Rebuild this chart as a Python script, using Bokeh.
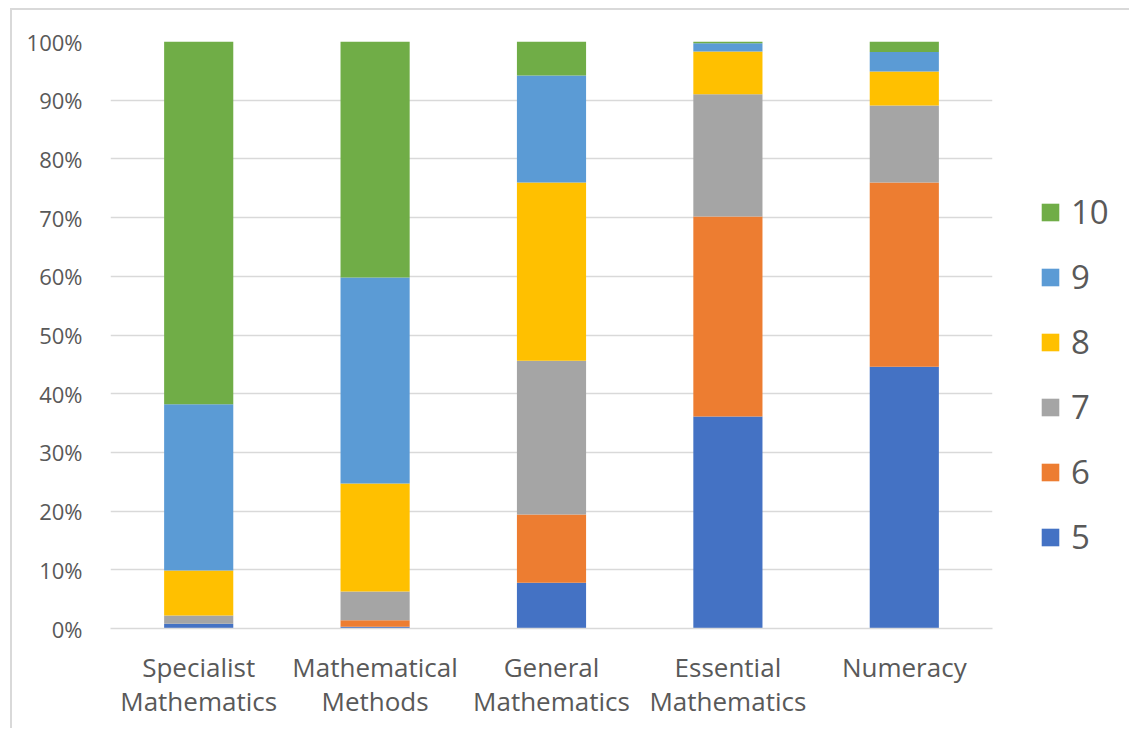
from bokeh.plotting import figure
from bokeh.models import ColumnDataSource, FactorRange, Legend, LegendItem, NumeralTickFormatter, FixedTicker
from bokeh.embed import file_html
from bokeh.resources import INLINE

subjects = ["Specialist\nMathematics", "Mathematical\nMethods", "General\nMathematics",
            "Essential\nMathematics", "Numeracy"]
grades = ["5", "6", "7", "8", "9", "10"]
g5 = [0.008, 0.003, 0.078, 0.361, 0.446]
g6 = [0.000, 0.011, 0.116, 0.341, 0.314]
g7 = [0.014, 0.049, 0.262, 0.208, 0.131]
g8 = [0.077, 0.184, 0.304, 0.073, 0.058]
g9 = [0.283, 0.351, 0.182, 0.014, 0.033]
g10 = [0.618, 0.402, 0.058, 0.003, 0.018]
colors = ["#4472C4", "#ED7D31", "#A5A5A5", "#FFC000", "#5B9BD5", "#70AD47"]

src = ColumnDataSource(dict(x=subjects, g5=g5, g6=g6, g7=g7, g8=g8, g9=g9, g10=g10))

FONT = "Open Sans"
TXT = "#595959"

p = figure(x_range=FactorRange(*subjects), y_range=(0, 1),
           frame_width=882, frame_height=587,
           output_backend="svg", toolbar_location=None,
           min_border_left=98, min_border_right=10, min_border_top=31, min_border_bottom=100)
p.margin = (8, 0, 0, 10)
p.styles = {"border-top": "2px solid #D9D9D9", "border-left": "2px solid #D9D9D9"}
p.outline_line_color = None
p.background_fill_color = "white"
p.border_fill_color = "white"

rs = p.vbar_stack(["g5", "g6", "g7", "g8", "g9", "g10"], x="x", width=0.392, color=colors,
                  source=src, line_color=None)

p.x_range.range_padding = 0
p.xgrid.grid_line_color = None
p.ygrid.grid_line_color = "#D9D9D9"
p.ygrid.grid_line_width = 1.5
p.yaxis.ticker = FixedTicker(ticks=[i / 10 for i in range(11)])
p.yaxis.formatter = NumeralTickFormatter(format="0%")
for ax in (p.xaxis, p.yaxis):
    ax.axis_line_color = None
    ax.major_tick_line_color = None
    ax.minor_tick_line_color = None
    ax.major_label_text_color = TXT
    ax.major_label_text_font = FONT
p.yaxis.major_label_text_font_size = "22px"
p.yaxis.major_label_standoff = 22
p.xaxis.major_label_text_font_size = "26px"
p.xaxis.major_label_standoff = 14
p.xaxis.major_label_text_line_height = 0.96
p.xaxis.axis_line_color = "#D9D9D9"
p.xaxis.axis_line_width = 1.5

items = [LegendItem(label=g, renderers=[r]) for g, r in zip(grades, rs)][::-1]
leg = Legend(items=items, location=(47, 69), glyph_width=22, glyph_height=22,
             label_text_font_size="33px", label_text_color=TXT, label_text_font=FONT,
             label_height=41, spacing=20, padding=0, margin=0, border_line_color=None,
             label_standoff=10, background_fill_alpha=0)
p.add_layout(leg, "right")

open("out.html", "w").write(file_html(p, INLINE))
